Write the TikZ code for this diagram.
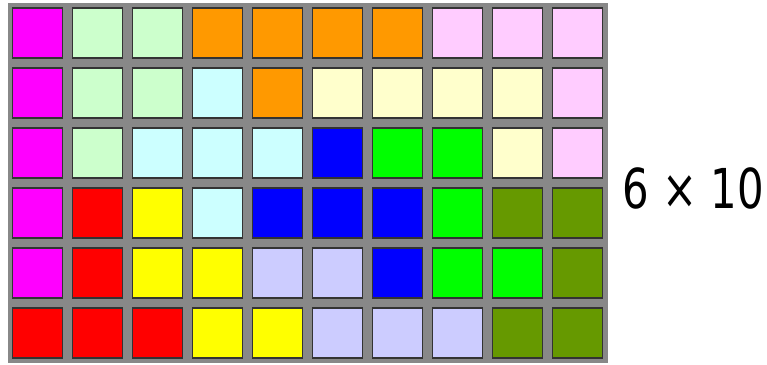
\documentclass[tikz,border=0pt]{standalone}
\usepackage{fontspec}
\setmainfont{DejaVu Sans}
\usepackage{tikz}
\usetikzlibrary{positioning}
\definecolor{pI}{HTML}{FF00FF}
\definecolor{pP}{HTML}{CCFFCC}
\definecolor{pY}{HTML}{FF9900}
\definecolor{pV}{HTML}{FFCCFF}
\definecolor{pL}{HTML}{FFFFCC}
\definecolor{pX}{HTML}{CCFFFF}
\definecolor{pF}{HTML}{0000FF}
\definecolor{pW}{HTML}{00FF00}
\definecolor{pU}{HTML}{669900}
\definecolor{pT}{HTML}{FF0000}
\definecolor{pZ}{HTML}{FFFF00}
\definecolor{pN}{HTML}{CCCCFF}
\definecolor{frame}{HTML}{888888}

\begin{document}
\begin{tikzpicture}[x=1pt,y=-1pt,
  cell/.style={draw=black!80,line width=1.3pt,minimum size=50pt,inner sep=0pt}]
  \useasboundingbox (0,0) rectangle (767,364);

  % board
  \fill[frame] (7.5,3) rectangle (607.5,363);

  % pieces, one row at a time
  \foreach \row [count=\r from 0] in {
      {pI,pP,pP,pY,pY,pY,pY,pV,pV,pV},
      {pI,pP,pP,pX,pY,pL,pL,pL,pL,pV},
      {pI,pP,pX,pX,pX,pF,pW,pW,pL,pV},
      {pI,pT,pZ,pX,pF,pF,pF,pW,pU,pU},
      {pI,pT,pZ,pZ,pN,pN,pF,pW,pW,pU},
      {pT,pT,pT,pZ,pZ,pN,pN,pN,pU,pU}} {
    \foreach \col [count=\c from 0] in \row {
      \node[cell,fill=\col] (c\r\c) at (37.5+60*\c,33+60*\r) {};
    }
  }

  % size label
  \node[font=\fontsize{55}{60}\selectfont,anchor=base,inner sep=0pt] (size) at (693.5,208) {\scalebox{0.76}[1]{6 × 10}};
\end{tikzpicture}
\end{document}
